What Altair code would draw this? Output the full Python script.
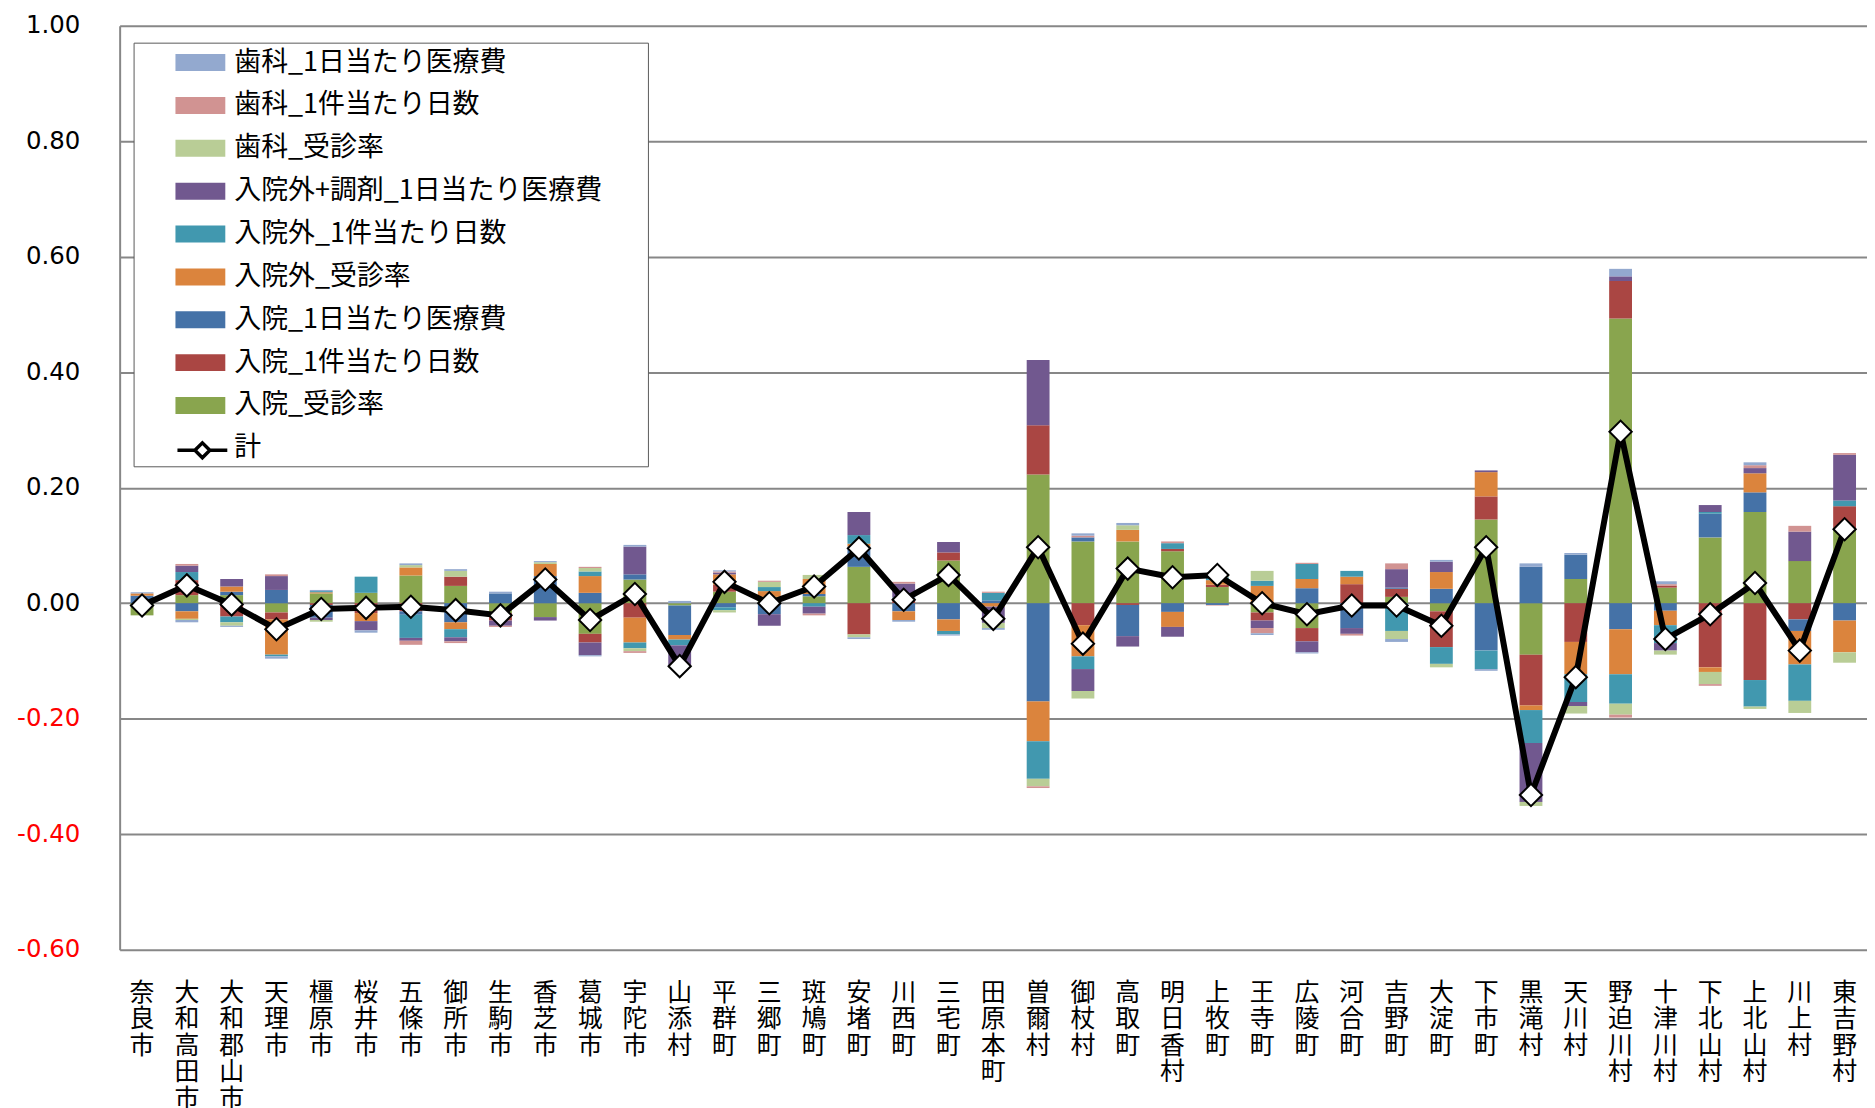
import altair as alt
import pandas as pd

municipalities = ["奈良市", "大和高田市", "大和郡山市", "天理市", "橿原市", "桜井市", "五條市", "御所市",
                  "生駒市", "香芝市", "葛城市", "宇陀市", "山添村", "平群町", "三郷町", "斑鳩町", "安堵町",
                  "川西町", "三宅町", "田原本町", "曽爾村", "御杖村", "高取町", "明日香村", "上牧町", "王寺町",
                  "広陵町", "河合町", "吉野町", "大淀町", "下市町", "黒滝村", "天川村", "野迫川村", "十津川村",
                  "下北山村", "上北山村", "川上村", "東吉野村"]

# stacking order (first = nearest zero)
series_names = ["入院_受診率", "入院_1件当たり日数", "入院_1日当たり医療費", "入院外_受診率",
                "入院外_1件当たり日数", "入院外+調剤_1日当たり医療費", "歯科_受診率",
                "歯科_1件当たり日数", "歯科_1日当たり医療費"]
series_colors = ["#89A54E", "#AA4643", "#4572A7", "#DB843D", "#4198AF", "#71588F",
                 "#B9CD96", "#D19392", "#93A9CF"]

nyuin_jushin = [-0.021, 0.014, 0.014, -0.016, 0.017, 0.018, 0.048, 0.030, -0.017, -0.024, -0.053, 0.041, -0.004,
                0.020, 0.011, 0.012, 0.063, 0, 0.074, 0, 0.223, 0.107, 0.107, 0.090, 0.028, -0.016, -0.043, 0,
                0.011, -0.014, 0.145, -0.089, 0.042, 0.493, 0.027, 0.114, 0.158, 0.073, 0.127]
nyuin_nissu = [0, 0.026, -0.023, -0.012, -0.003, -0.017, -0.014, 0.016, -0.013, 0, -0.015, -0.025, 0, 0.012, 0, 0,
               -0.054, 0.008, 0.014, 0, 0.085, -0.038, -0.003, 0.004, 0.004, -0.014, -0.023, 0.033, 0.014, -0.062,
               0.040, -0.088, -0.067, 0.065, 0.003, -0.111, -0.133, -0.028, 0.041]
nyuin_iryohi = [0.013, -0.014, 0.006, 0.023, -0.022, 0, -0.006, -0.033, 0.017, 0.047, 0.018, 0.009, -0.051, -0.007,
                -0.019, 0.004, 0.035, -0.014, -0.028, 0.005, -0.170, 0.007, -0.054, -0.015, -0.003, 0, 0.026,
                -0.043, 0.002, 0.025, -0.082, 0.063, 0.042, -0.045, -0.013, 0.041, 0.034, -0.020, -0.030]
gairai_jushin = [0.004, -0.013, 0.009, -0.061, 0.002, -0.014, 0.014, -0.012, 0, 0.021, 0.029, -0.043, -0.008, 0.018,
                 0.010, 0.026, 0.005, -0.015, -0.020, -0.006, -0.069, -0.054, 0.020, -0.026, 0.008, 0.030, 0.016,
                 0.013, 0, 0.029, 0.042, -0.008, -0.056, -0.078, -0.025, -0.008, 0.033, -0.058, -0.055]
gairai_nissu = [0, 0.014, -0.010, -0.003, 0.002, 0.028, -0.040, -0.014, 0, 0, 0.008, -0.010, -0.010, -0.005, 0.007,
                -0.006, 0.015, 0.002, -0.006, 0.013, -0.065, -0.022, 0, 0.010, 0.005, 0.009, 0.026, 0.010, -0.048,
                -0.029, -0.032, -0.057, -0.048, -0.051, -0.031, 0.003, -0.046, -0.063, 0.010]
gairai_iryohi = [0, 0.011, 0.013, 0.024, -0.004, -0.016, -0.005, -0.007, -0.009, -0.006, -0.022, 0.048, -0.036,
                 0.003, -0.020, -0.012, 0.040, 0.024, 0.018, -0.028, 0.113, -0.038, -0.018, -0.017, 0, -0.013,
                 -0.019, -0.010, 0.032, 0.018, 0.003, -0.102, -0.007, 0.008, -0.013, 0.012, 0.009, 0.051, 0.079]
shika_jushin = [0, -0.002, -0.006, 0, -0.003, 0, 0.004, 0.010, 0, 0.003, 0.006, -0.005, -0.003, -0.004, 0.009,
                0.007, -0.005, 0, 0, -0.009, -0.013, -0.013, 0.008, 0, 0.006, 0.017, 0, 0, -0.014, -0.006, 0,
                -0.007, -0.013, -0.019, -0.007, -0.021, -0.004, -0.021, -0.018]
shika_nissu = [0, 0.003, 0, 0.003, 0, 0, -0.007, -0.003, -0.002, 0, 0.002, -0.003, 0, 0.002, 0.002, -0.003, 0,
               0.003, 0, 0.002, -0.003, 0.003, 0, 0.003, -0.001, -0.009, 0.002, -0.003, 0.010, 0, 0, 0, 0,
               -0.005, 0.003, -0.003, 0.005, 0.010, 0.003]
shika_iryohi = [0.002, -0.004, -0.002, -0.004, 0.002, -0.004, 0.003, 0.003, 0.003, 0.002, -0.002, 0.003, 0.004,
                0.002, 0, 0, -0.003, -0.003, -0.002, -0.003, 0, 0.004, 0.004, 0, 0, -0.003, -0.002, 0, -0.005,
                0.003, -0.003, 0.006, 0.003, 0.013, 0.005, 0, 0.005, 0, 0]
total = [-0.004, 0.031, -0.002, -0.045, -0.010, -0.008, -0.006, -0.012, -0.021, 0.041, -0.029, 0.016, -0.109,
         0.037, 0.000, 0.029, 0.095, 0.006, 0.049, -0.027, 0.097, -0.070, 0.060, 0.045, 0.049, 0.000, -0.019,
         -0.004, -0.004, -0.039, 0.097, -0.332, -0.128, 0.297, -0.062, -0.019, 0.035, -0.082, 0.128]

y_ticks = [-0.6, -0.4, -0.2, 0.0, 0.2, 0.4, 0.6, 0.8, 1.0]

series_values = [nyuin_jushin, nyuin_nissu, nyuin_iryohi, gairai_jushin, gairai_nissu, gairai_iryohi,
                 shika_jushin, shika_nissu, shika_iryohi]

rows = []
for si, (name, vals) in enumerate(zip(series_names, series_values)):
    for m, v in zip(municipalities, vals):
        rows.append({"市町村": m, "系列": name, "値": v, "順": si})
bars_df = pd.DataFrame(rows)
line_df = pd.DataFrame({"市町村": municipalities, "計": total, "名": "計"})

# legend: 9 bar series (reversed) + an invisible slot whose label is 計
legend_domain = list(reversed(series_names)) + ["計"]
legend_range = list(reversed(series_colors)) + ["white"]

RECT = "M-1.667,-0.567L1.667,-0.567L1.667,0.567L-1.667,0.567Z"
LINE_DIAMOND = "M-1.667,0L-0.5,0M0.5,0L1.667,0M-0.5,0L0,-0.5L0.5,0L0,0.5Z"

GRID = "#878787"

x_enc = alt.X(
    "市町村:N", sort=municipalities, title=None,
    scale=alt.Scale(paddingInner=0.49, paddingOuter=0.245),
    axis=alt.Axis(labelAngle=0, labelExpr="split(datum.label, '')", labelFont="Noto Sans CJK JP",
                  labelFontSize=25, labelLineHeight=26.5, labelPadding=31, labelColor="black",
                  labelBaseline="top", labelOverlap=False, labelBound=False, domain=False,
                  ticks=False, grid=False, labelLimit=500),
)

y_scale = alt.Scale(domain=[-0.6, 1.0], nice=False, zero=False)
y_axis = alt.Axis(values=y_ticks, title=None,
                  labelExpr="replace(format(datum.value, '.2f'), '\u2212', '-')",
                  labelFont="DejaVu Sans", labelFontSize=24.5,
                  labelColor={"condition": {"test": "datum.value < 0", "value": "red"}, "value": "black"},
                  labelPadding=40, ticks=False, tickSize=0, domainColor=GRID, domainWidth=2,
                  gridColor=GRID, gridWidth=2, labelFlush=False)

bar_legend = alt.Legend(
    title="計", titleOrient="right", titleOpacity=0, titleFontSize=32, titlePadding=9,
    orient="none", legendX=14, legendY=17, direction="vertical",
    symbolType=RECT, symbolSize=900, symbolOffset=47, labelOffset=19, symbolStrokeWidth=0,
    labelFont="Noto Sans CJK JP", labelFontSize=27, labelColor="black", labelLimit=600,
    rowPadding=15, padding=5, strokeColor="#5a5a5a", fillColor="white", zindex=1,
)

line_legend = alt.Legend(
    title=None, orient="none", legendX=19, legendY=409, direction="vertical",
    symbolType=LINE_DIAMOND, symbolSize=900, symbolOffset=47, labelOffset=19,
    symbolStrokeWidth=3.5, symbolStrokeColor="black", symbolFillColor="white",
    labelExpr="''", padding=0, zindex=2,
)

bars = alt.Chart(bars_df).mark_bar().encode(
    x=x_enc,
    y=alt.Y("値:Q", stack="zero", scale=y_scale, axis=y_axis),
    color=alt.Color("系列:N", scale=alt.Scale(domain=legend_domain, range=legend_range), legend=bar_legend),
    order=alt.Order("順:Q", sort="ascending"),
)

line = alt.Chart(line_df).mark_line(
    strokeWidth=6,
    point=alt.OverlayMarkDef(shape="diamond", filled=True, fill="white",
                             strokeWidth=2, size=500, opacity=1),
).encode(
    x=alt.X("市町村:N", sort=municipalities),
    y=alt.Y("計:Q", scale=y_scale),
    stroke=alt.Stroke("名:N", scale=alt.Scale(domain=["計"], range=["black"]), legend=line_legend),
)

chart = alt.layer(bars, line).properties(
    width=1753, height=927,
    autosize=alt.AutoSizeParams(type="none"),
    padding={"left": 112, "top": 16, "right": 0, "bottom": 157},
    background="white",
).configure_view(stroke=None)

chart.save("out.html", embed_options={"renderer": "svg", "actions": False})
